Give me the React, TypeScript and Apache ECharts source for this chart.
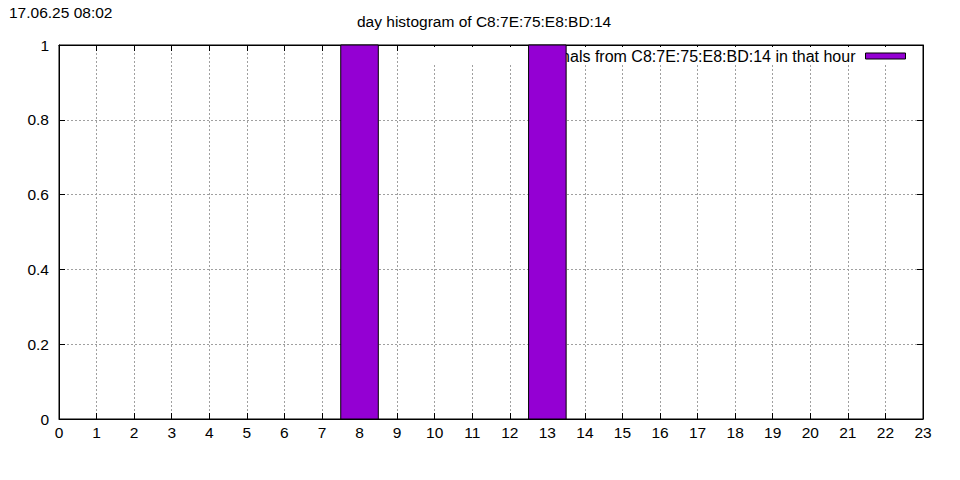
import React, { useEffect, useRef } from "react";
import * as echarts from "echarts";

const hours: number[] = [0, 1, 2, 3, 4, 5, 6, 7, 8, 9, 10, 11, 12, 13, 14, 15, 16, 17, 18, 19, 20, 21, 22, 23];
const counts: number[] = [0, 0, 0, 0, 0, 0, 0, 0, 1, 0, 0, 0, 0, 1, 0, 0, 0, 0, 0, 0, 0, 0, 0, 0];
const yTicks: number[] = [0, 0.2, 0.4, 0.6, 0.8, 1];
const titleText = "day histogram of C8:7E:75:E8:BD:14";
const stampText = "17.06.25 08:02";
const seriesName = "signals from C8:7E:75:E8:BD:14 in that hour";

const FONT = "'Liberation Sans', Arial, sans-serif";
const FS = 15.5;
const BAR = "#9400d3";

export default function App() {
  const ref = useRef<HTMLDivElement>(null);
  useEffect(() => {
    if (!ref.current) return;
    const chart = echarts.init(ref.current, null, { renderer: "svg" });
    const data = hours.map((h, i) => [h, counts[i]]);
    const gridLine = { show: true, lineStyle: { color: "#a0a0a0", type: [2, 2] as any, width: 1 } };
    const tick = { show: true, inside: true, length: 6, lineStyle: { color: "#000" } };
    chart.setOption({
      animation: false,
      backgroundColor: "#fff",
      textStyle: { fontFamily: FONT },
      title: [
        { text: stampText, left: 9, top: 4, padding: 0, textStyle: { fontFamily: FONT, fontSize: FS, fontWeight: "normal", color: "#000" } },
        { text: titleText, left: 357, top: 13, padding: 0, textStyle: { fontFamily: FONT, fontSize: FS, fontWeight: "normal", color: "#000" } },
      ],
      legend: {
        data: [{ name: seriesName, icon: "rect", itemStyle: { color: BAR, borderColor: "#000", borderWidth: 1 } }],
        align: "right",
        right: 39,
        top: 47,
        padding: [1, 15, 1, 110],
        itemWidth: 40,
        itemHeight: 6,
        backgroundColor: "#fff",
        z: 3,
        textStyle: { fontFamily: FONT, fontSize: 16, color: "#000", padding: [0, 5, 0, 0] },
      },
      grid: { left: 59, right: 37, top: 45, bottom: 61, show: true, borderColor: "#000", borderWidth: 1, backgroundColor: "#fff" },
      xAxis: [
        {
          type: "value", min: 0, max: 23, interval: 1, position: "bottom",
          axisLine: { show: true, onZero: false, lineStyle: { color: "#000" } },
          axisTick: tick,
          axisLabel: { color: "#000", fontSize: FS, fontFamily: FONT, margin: 5 },
          splitLine: gridLine,
        },
        {
          type: "value", min: 0, max: 23, interval: 1, position: "top",
          axisLine: { show: true, onZero: false, lineStyle: { color: "#000" } },
          axisTick: tick, axisLabel: { show: false }, splitLine: { show: false },
        },
      ],
      yAxis: [
        {
          type: "value", min: yTicks[0], max: yTicks[yTicks.length - 1], interval: 0.2, position: "left",
          axisLine: { show: true, onZero: false, lineStyle: { color: "#000" } },
          axisTick: tick,
          axisLabel: { color: "#000", fontSize: FS, fontFamily: FONT, margin: 10 },
          splitLine: gridLine,
        },
        {
          type: "value", min: yTicks[0], max: yTicks[yTicks.length - 1], interval: 0.2, position: "right",
          axisLine: { show: true, onZero: false, lineStyle: { color: "#000" } },
          axisTick: tick, axisLabel: { show: false }, splitLine: { show: false },
        },
      ],
      series: [
        {
          name: seriesName,
          type: "custom",
          z: 10,
          itemStyle: { color: BAR, borderColor: "#000", borderWidth: 1 },
          data,
          renderItem: (params: any, api: any) => {
            const x = api.value(0);
            const y = api.value(1);
            if (!y) return null;
            const p0 = api.coord([x - 0.5, y]);
            const p1 = api.coord([x + 0.5, 0]);
            return {
              type: "rect",
              shape: { x: p0[0], y: p0[1], width: p1[0] - p0[0], height: p1[1] - p0[1] },
              style: { fill: BAR, stroke: "#000", lineWidth: 1 },
            };
          },
        },
      ],
    });
    return () => chart.dispose();
  }, []);
  return <div ref={ref} style={{ position: "absolute", left: 0, top: 0, width: 960, height: 480 }} />;
}
